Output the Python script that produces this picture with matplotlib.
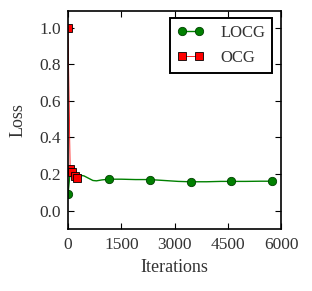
import matplotlib
matplotlib.use("Agg")
import matplotlib.pyplot as plt

plt.rcParams['font.family'] = ['Liberation Serif', 'DejaVu Serif']

# LOCG curve
locg_iter = [0, 50, 150, 300, 450, 600, 700, 800, 950, 1150, 1500, 1900,
             2300, 2700, 3100, 3450, 3900, 4300, 4600, 5000, 5400, 5750]
locg_loss = [0.09, 0.19, 0.20, 0.195, 0.19, 0.175, 0.165, 0.163, 0.168, 0.172,
             0.172, 0.170, 0.170, 0.165, 0.160, 0.158, 0.158, 0.160, 0.160,
             0.160, 0.161, 0.161]
locg_marks = [0, 9, 12, 15, 18, 21]

# OCG curve
ocg_iter = [0, 60, 120, 190, 250]
ocg_loss = [1.0, 0.23, 0.21, 0.19, 0.18]

fig = plt.figure(figsize=(3.12, 2.91), dpi=100)
ax = fig.add_axes([0.218, 0.213, 0.683, 0.749])

ax.plot(locg_iter, locg_loss, color='#008000', lw=1.0, marker='o', ms=6,
        markevery=locg_marks, mec='#004000', mew=0.6, label='LOCG')
ax.plot(ocg_iter, ocg_loss, color='red', lw=0.6, marker='s', ms=6,
        mec='black', mew=0.6, label='OCG')

ax.set_xlim(0, 6000)
ax.set_ylim(-0.1, 1.09)
ax.set_xticks([0, 1500, 3000, 4500, 6000])
ax.set_yticks([0.0, 0.2, 0.4, 0.6, 0.8, 1.0])
ax.set_yticklabels(['0.0', '0.2', '0.4', '0.6', '0.8', '1.0'])
ax.tick_params(direction='in', top=True, right=True, labelsize=12.5, length=4,
               colors='black', labelcolor='#333333')
ax.tick_params(axis='x', pad=6)
ax.tick_params(axis='y', pad=5)
for s in ax.spines.values():
    s.set_linewidth(1.2)

ax.set_xlabel('Iterations', fontsize=13, color='#333333', labelpad=4)
ax.set_ylabel('Loss', fontsize=13, color='#333333', labelpad=9)

leg = ax.legend(loc='upper right', fontsize=12, fancybox=False, framealpha=1,
                edgecolor='black', borderpad=0.4, handlelength=1.6,
                handletextpad=1.0, labelspacing=0.55, numpoints=2,
                bbox_to_anchor=(272 / 312, 1 - 18 / 291),
                bbox_transform=fig.transFigure, borderaxespad=0)
leg.get_frame().set_linewidth(1.4)
for t in leg.get_texts():
    t.set_color('#333333')

fig.savefig('out.png', dpi=100)
